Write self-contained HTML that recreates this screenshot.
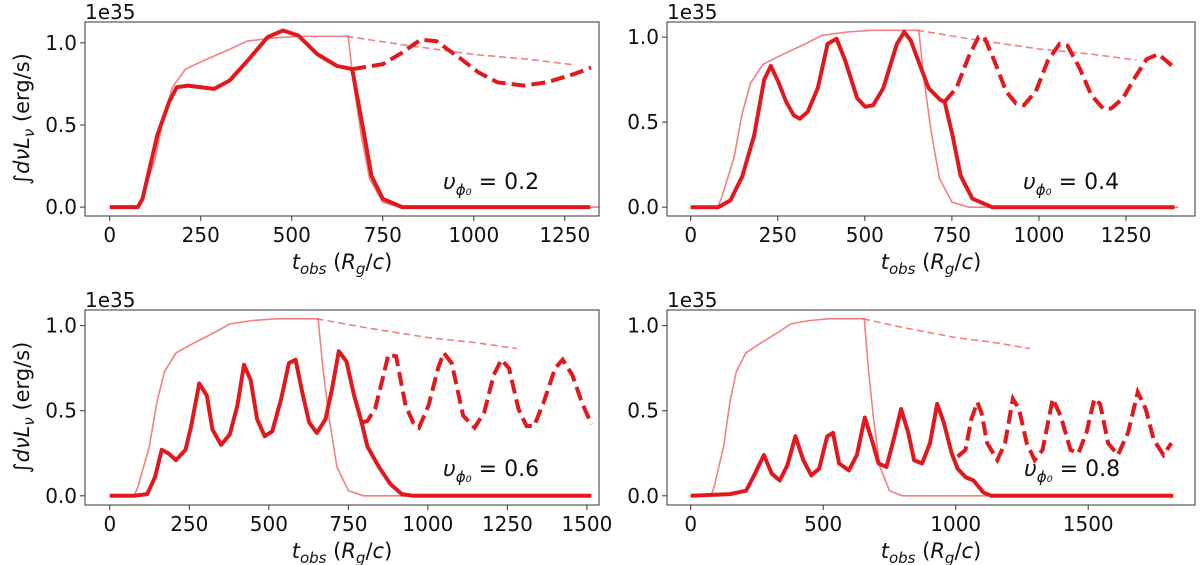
<!DOCTYPE html>
<html><head><meta charset="utf-8"><style>
html,body{margin:0;padding:0;background:#fff;}
svg{display:block;font-family:"DejaVu Sans","Liberation Sans",sans-serif;}
</style></head>
<body>
<svg id="fig" width="1200" height="565" viewBox="0 0 1200 565" xmlns="http://www.w3.org/2000/svg"></svg>
<script>
// Shared envelope (thin light curve)
const envT = [0,76,88,124,148,172,208,256,329,377,449,521,655,670,690,714,750,798,1400];
const envY = [0,0,0.05,0.29,0.55,0.73,0.84,0.89,0.96,1.01,1.03,1.04,1.04,0.75,0.45,0.17,0.03,0,0];
const envDashT = [650,800,1000,1150,1280];
const envDashY = [1.04,0.99,0.93,0.90,0.865];

// Panel 1 (v=0.2)
const p1SolidT = [0,77,90,131,163,184,215,287,329,382,434,476,518,571,624,666,699,719,750,803,1320];
const p1SolidY = [0,0,0.05,0.44,0.64,0.73,0.74,0.72,0.77,0.90,1.035,1.075,1.045,0.93,0.86,0.84,0.44,0.19,0.05,0,0];
const p1DashT = [666,750,803,854,897,960,1013,1065,1138,1201,1275,1322];
const p1DashY = [0.84,0.87,0.94,1.02,1.01,0.91,0.82,0.76,0.74,0.76,0.81,0.85];
// Panel 2 (v=0.4)
const p2SolidT = [0,79,114,148,182,211,230,251,274,296,313,336,365,393,419,444,478,501,524,553,592,613,632,661,683,717,729,752,775,809,866,1389];
const p2SolidY = [0,0,0.04,0.18,0.42,0.75,0.83,0.74,0.62,0.54,0.52,0.56,0.70,0.96,0.99,0.86,0.64,0.59,0.60,0.70,0.96,1.03,0.98,0.82,0.70,0.63,0.62,0.42,0.185,0.05,0,0];
const p2DashT = [729,763,797,826,843,872,906,934,957,991,1025,1059,1082,1116,1150,1184,1207,1241,1275,1309,1343,1383];
const p2DashY = [0.62,0.70,0.88,1.0,1.0,0.86,0.68,0.61,0.60,0.68,0.86,0.96,0.95,0.82,0.66,0.58,0.58,0.64,0.76,0.87,0.90,0.83];
// Panel 3 (v=0.6)
const p3SolidT = [0,76,118,142,163,184,208,238,256,281,305,323,350,377,401,422,443,463,487,511,539,563,584,605,627,651,678,699,720,744,768,792,810,846,882,918,954,1514];
const p3SolidY = [0,0,0.01,0.11,0.27,0.25,0.21,0.27,0.41,0.66,0.59,0.39,0.30,0.36,0.53,0.77,0.68,0.45,0.35,0.38,0.57,0.78,0.80,0.61,0.43,0.37,0.45,0.63,0.85,0.79,0.59,0.43,0.29,0.17,0.07,0.01,0,0];
const p3DashT = [792,810,834,858,876,900,930,954,972,1002,1032,1050,1075,1111,1147,1177,1207,1231,1255,1285,1310,1334,1364,1400,1424,1454,1484,1514];
const p3DashY = [0.43,0.44,0.51,0.69,0.83,0.82,0.53,0.43,0.40,0.53,0.75,0.84,0.78,0.47,0.40,0.49,0.71,0.80,0.75,0.51,0.41,0.41,0.55,0.75,0.80,0.71,0.55,0.42];
// Panel 4 (v=0.8)
const p4SolidT = [0,149,209,239,276,306,336,365,395,425,455,485,515,537,560,597,627,657,687,709,739,769,794,821,843,873,903,930,955,985,1007,1037,1067,1104,1134,1821];
const p4SolidY = [0,0.01,0.03,0.12,0.24,0.13,0.09,0.18,0.35,0.21,0.12,0.16,0.35,0.37,0.19,0.15,0.24,0.46,0.31,0.19,0.17,0.35,0.51,0.37,0.21,0.19,0.31,0.54,0.43,0.25,0.16,0.11,0.09,0.02,0,0];
const p4DashT = [1007,1037,1059,1082,1097,1119,1157,1186,1216,1239,1268,1298,1328,1366,1396,1433,1463,1493,1523,1545,1575,1612,1650,1687,1717,1747,1784,1814];
const p4DashY = [0.23,0.27,0.45,0.55,0.49,0.31,0.21,0.31,0.57,0.51,0.31,0.21,0.27,0.57,0.47,0.27,0.25,0.37,0.57,0.54,0.31,0.24,0.37,0.61,0.51,0.33,0.24,0.31];

const xTicks12 = [0,250,500,750,1000,1250];
const xTicks3 = [0,250,500,750,1000,1250,1500];
const xTicks4 = [0,500,1000,1500];
const yTicks = [0,0.5,1.0];
const vLabels = ["0.2","0.4","0.6","0.8"];

const NS = "http://www.w3.org/2000/svg";
const fig = document.getElementById('fig');
function mk(tag, attrs, parent){const e=document.createElementNS(NS,tag);for(const k in attrs)e.setAttribute(k,attrs[k]);(parent||fig).appendChild(e);return e;}

const panels = [
 {L:85,R:599,T:22,B:216,x0:-68,x1:1344,y0:-0.054,y1:1.127,ticks:xTicks12,s:p1SolidT,sy:p1SolidY,d:p1DashT,dy:p1DashY,ylab:true,ax:455,ay:182},
 {L:667,R:1195,T:22,B:216,x0:-68,x1:1448,y0:-0.052,y1:1.089,ticks:xTicks12,s:p2SolidT,sy:p2SolidY,d:p2DashT,dy:p2DashY,ylab:false,ax:1035,ay:182},
 {L:85,R:599,T:310,B:505,x0:-78,x1:1538,y0:-0.054,y1:1.092,ticks:xTicks3,s:p3SolidT,sy:p3SolidY,d:p3DashT,dy:p3DashY,ylab:true,ax:455,ay:469},
 {L:667,R:1195,T:310,B:505,x0:-89.5,x1:1903,y0:-0.054,y1:1.092,ticks:xTicks4,s:p4SolidT,sy:p4SolidY,d:p4DashT,dy:p4DashY,ylab:false,ax:1036,ay:469}
];

panels.forEach((p,i)=>{
  const g = mk('g',{});
  
  
  const xs = v=>p.L+(v-p.x0)/(p.x1-p.x0)*(p.R-p.L);
  const ys = v=>p.B-(v-p.y0)/(p.y1-p.y0)*(p.B-p.T);
  const clipId='clip'+i;
  const cp=mk('clipPath',{id:clipId},g); mk('rect',{x:p.L,y:p.T,width:p.R-p.L,height:p.B-p.T},cp);
  const path=(T,Y)=>T.map((t,k)=>(k?'L':'M')+xs(t).toFixed(1)+','+ys(Y[k]).toFixed(1)).join(' ');
  const pl = mk('g',{'clip-path':'url(#'+clipId+')'},g);
  let e;
  e=mk('path',{d:path(envT,envY),fill:'none',stroke:'#ee5555','stroke-opacity':0.75,'stroke-width':1.6},pl);
   
  e=mk('path',{d:path(envDashT,envDashY),fill:'none',stroke:'#ee5555','stroke-opacity':0.75,'stroke-width':1.6,'stroke-dasharray':'7,4'},pl);
   
  e=mk('path',{d:path(p.s,p.sy),fill:'none',stroke:'#e3181c','stroke-width':4,'stroke-linejoin':'round'},pl);
   
  e=mk('path',{d:path(p.d,p.dy),fill:'none',stroke:'#e3181c','stroke-width':4,'stroke-dasharray':'14,6'},pl);
   
  e=mk('rect',{x:p.L,y:p.T,width:p.R-p.L,height:p.B-p.T,fill:'none',stroke:'#333','stroke-width':1},g);
   
  p.ticks.forEach(t=>{
    const x=xs(t);
    mk('line',{x1:x,x2:x,y1:p.B,y2:p.B+5,stroke:'#333'},g);
    const tx=mk('text',{x:x,y:p.B+26,'text-anchor':'middle','font-size':20,fill:'#111'},g);
    tx.textContent=t;
     
  });
  yTicks.forEach(v=>{
    const y=ys(v);
    mk('line',{x1:p.L-5,x2:p.L,y1:y,y2:y,stroke:'#333'},g);
    const tx=mk('text',{x:p.L-8,y:y+7,'text-anchor':'end','font-size':20,fill:'#111'},g);
    tx.textContent=v.toFixed(1);
     
  });
  e=mk('text',{x:p.L,y:p.T-3,'font-size':20,fill:'#111'},g); e.textContent='1e35';
   
  const cx=(p.L+p.R)/2;
  e=mk('text',{x:cx,y:p.B+53,'text-anchor':'middle','font-size':21,fill:'#111'},g);
  e.innerHTML='<tspan font-style="italic">t</tspan><tspan font-style="italic" font-size="15" dy="5">obs</tspan><tspan dy="-5"> (</tspan><tspan font-style="italic">R</tspan><tspan font-style="italic" font-size="15" dy="5">g</tspan><tspan dy="-5">/</tspan><tspan font-style="italic">c</tspan><tspan>)</tspan>';
   
  if(p.ylab){
    const my=(p.T+p.B)/2;
    e=mk('text',{x:0,y:0,'text-anchor':'middle','font-size':21,fill:'#111',transform:'translate(29,'+my+') rotate(-90)'},g);
    e.innerHTML='∫<tspan font-style="italic">dνL</tspan><tspan font-style="italic" font-size="15" dy="5">ν</tspan><tspan dy="-5"> (erg/s)</tspan>';
     
  }
  e=mk('text',{x:p.ax-12,y:p.ay+7,'font-size':22,fill:'#111'},g);
  e.innerHTML='<tspan font-style="italic">υ</tspan><tspan font-style="italic" font-size="15" dy="6">ϕ₀</tspan><tspan dy="-6"> = '+vLabels[i]+'</tspan>';
   
});
</script>
</body></html>
